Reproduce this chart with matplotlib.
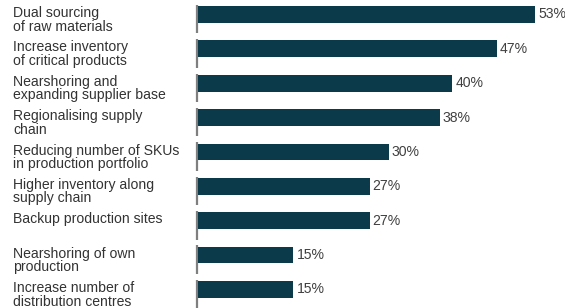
import matplotlib
matplotlib.use("Agg")
import matplotlib.pyplot as plt
from matplotlib.transforms import blended_transform_factory

categories = [
    "Dual sourcing\nof raw materials",
    "Increase inventory\nof critical products",
    "Nearshoring and\nexpanding supplier base",
    "Regionalising supply\nchain",
    "Reducing number of SKUs\nin production portfolio",
    "Higher inventory along\nsupply chain",
    "Backup production sites",
    "Nearshoring of own\nproduction",
    "Increase number of\ndistribution centres",
]
values = [53, 47, 40, 38, 30, 27, 27, 15, 15]
value_labels = ["53%", "47%", "40%", "38%", "30%", "27%", "27%", "15%", "15%"]

plt.rcParams['font.family'] = ['Liberation Sans', 'DejaVu Sans']

W, H, DPI = 565, 308, 100
fig = plt.figure(figsize=(W / DPI, H / DPI), dpi=DPI)
ax = fig.add_axes([198 / W, 0, 1 - 198 / W, 1])

bar_color = '#0b3a4a'
bar_h = 0.49
pos = list(range(len(values)))
ax.barh(pos, values, height=bar_h, color=bar_color, zorder=2)

ax.set_xlim(0, (W - 198) / 6.36)
ax.set_ylim(8.54, -0.42)
ax.axis('off')

fs = 14 * 72 / DPI  # 14 px
# axis segments
for p in pos:
    ax.plot([-0.2, -0.2], [p - 0.28, p + 0.55], color='#7f7f7f', lw=1.6,
            solid_capstyle='butt', clip_on=False, zorder=1)

trans = blended_transform_factory(fig.transFigure, ax.transData)
for p, cat in zip(pos, categories):
    ax.text(13 / W, p - bar_h / 2, cat, transform=trans,
            ha='left', va='top', fontsize=fs, color='#333333', linespacing=0.96)

for p, v, lab in zip(pos, values, value_labels):
    ax.text(v + 3 / 6.36, p, lab, ha='left', va='center', fontsize=fs,
            color='#404040', clip_on=False)

fig.savefig('out.png', dpi=DPI)
